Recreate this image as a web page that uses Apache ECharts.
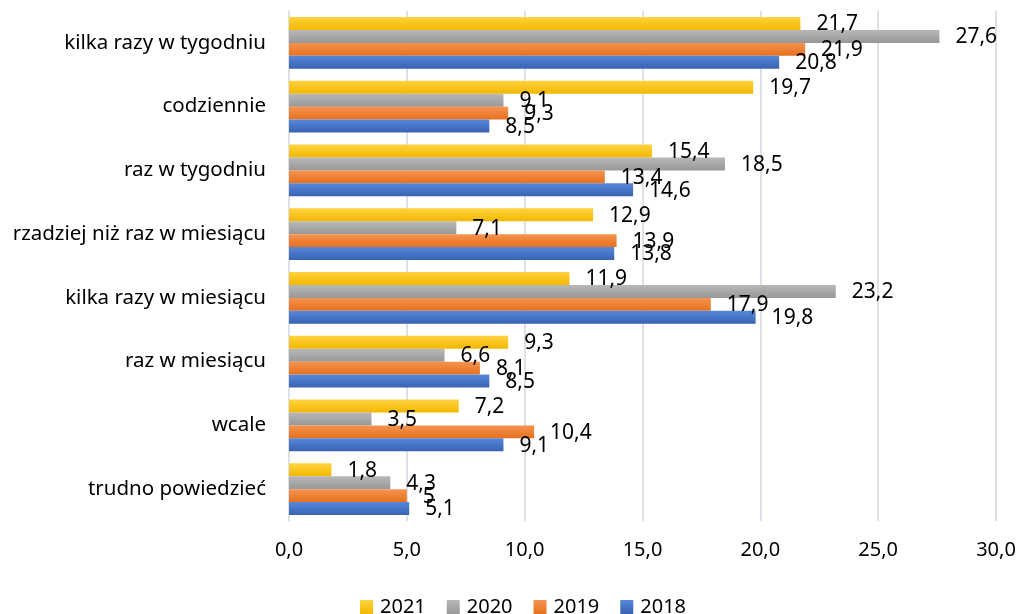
<!DOCTYPE html>
<html>
<head>
<meta charset="utf-8">
<title>Częstotliwość</title>
<script src="https://cdn.jsdelivr.net/npm/echarts@6/dist/echarts.min.js"></script>
<style>
  html, body {
    margin: 0;
    padding: 0;
    background: #ffffff;
  }
  #chart {
    width: 1019px;
    height: 614px;
  }
</style>
</head>
<body>
<div id="chart"></div>
<script>
// kategorie (od góry)
const categories = [
  "kilka razy w tygodniu",
  "codziennie",
  "raz w tygodniu",
  "rzadziej niż raz w miesiącu",
  "kilka razy w miesiącu",
  "raz w miesiącu",
  "wcale",
  "trudno powiedzieć",
];

const years = ["2021", "2020", "2019", "2018"];

const values2021 = [21.7, 19.7, 15.4, 12.9, 11.9, 9.3, 7.2, 1.8];
const values2020 = [27.6, 9.1, 18.5, 7.1, 23.2, 6.6, 3.5, 4.3];
const values2019 = [21.9, 9.3, 13.4, 13.9, 17.9, 8.1, 10.4, 5];
const values2018 = [20.8, 8.5, 14.6, 13.8, 19.8, 8.5, 9.1, 5.1];

const axisMin = 0;
const axisMax = 30;
const axisStep = 5;

const FONT = "Noto Sans";

function grad(top, bottom) {
  return new echarts.graphic.LinearGradient(0, 0, 0, 1, [
    { offset: 0, color: top },
    { offset: 1, color: bottom },
  ]);
}

const colors = {
  "2021": grad("#ffd340", "#f2b700"),
  "2020": grad("#b8b8b8", "#989898"),
  "2019": grad("#f6944f", "#e6701f"),
  "2018": grad("#5888d8", "#3962b3"),
};

const seriesData = [values2021, values2020, values2019, values2018];

const chart = echarts.init(document.getElementById("chart"), null, {
  renderer: "canvas",
});

const option = {
  animation: false,
  textStyle: { fontFamily: FONT },
  grid: {
    left: 289,
    right: 23,
    top: 11,
    bottom: 93,
    containLabel: false,
  },
  legend: {
    data: years,
    top: 597,
    left: 360,
    padding: 0,
    itemWidth: 13,
    itemHeight: 14,
    itemGap: 21,
    icon: "rect",
    textStyle: {
      fontFamily: FONT,
      fontSize: 20,
      color: "#000",
      padding: [0, 0, 0, 2],
    },
  },
  xAxis: {
    type: "value",
    min: axisMin,
    max: axisMax,
    interval: axisStep,
    axisLine: { show: false },
    axisTick: { show: false },
    splitLine: {
      show: true,
      lineStyle: { color: "#dde1e8", width: 2 },
    },
    axisLabel: {
      fontFamily: FONT,
      fontSize: 20,
      color: "#000",
      margin: 19,
      formatter: (v) => v.toFixed(1).replace(".", ","),
    },
  },
  yAxis: {
    type: "category",
    data: categories,
    inverse: true,
    axisLine: { show: true, lineStyle: { color: "#dde1e8", width: 2 } },
    axisTick: { show: false },
    axisLabel: {
      fontFamily: FONT,
      fontSize: 20.5,
      color: "#000",
      margin: 23,
    },
  },
  series: years.map((y, i) => ({
    name: y,
    type: "bar",
    data: seriesData[i],
    barGap: "0%",
    barCategoryGap: "19%",
    itemStyle: { color: colors[y] },
    label: {
      show: true,
      position: "right",
      distance: 16,
      offset: [0, 1],
      fontFamily: FONT,
      fontSize: 21,
      color: "#000",
      formatter: (p) => String(p.value).replace(".", ","),
    },
  })),
};

chart.setOption(option);
</script>
</body>
</html>
